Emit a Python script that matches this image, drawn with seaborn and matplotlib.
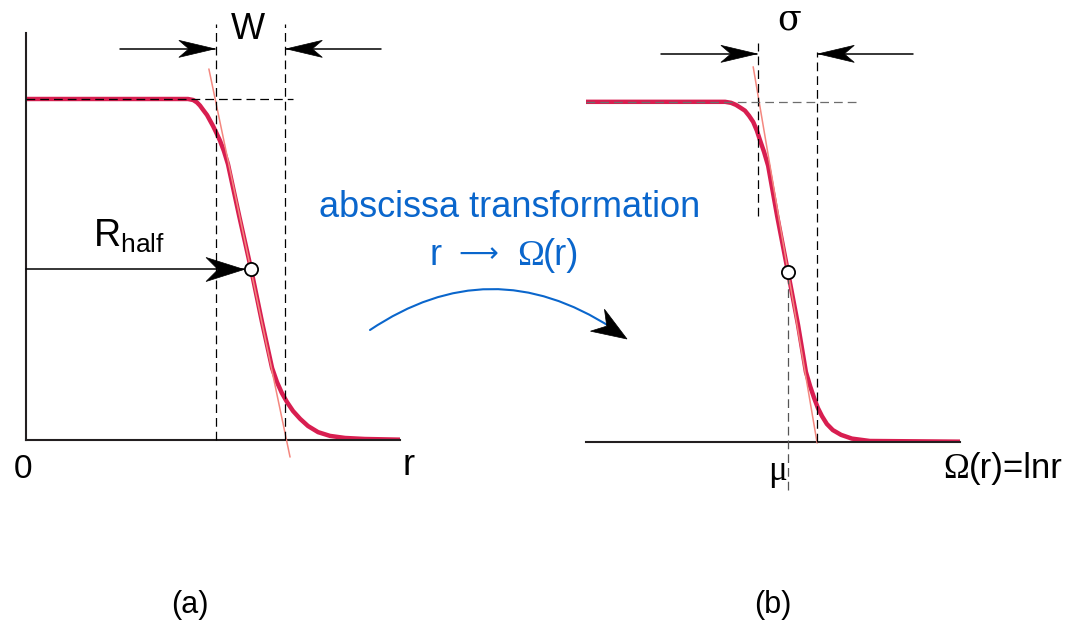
import numpy as np
import seaborn as sns
import matplotlib.pyplot as plt
from matplotlib.patches import Polygon, FancyArrowPatch
from matplotlib.transforms import IdentityTransform

# panel (a): occupation vs r
r_a = [0.0, 4.33, 4.47, 4.57, 4.65, 4.73, 4.84, 4.92, 5.00, 5.08, 5.19, 5.29, 5.40,
       5.70, 6.02, 6.31, 6.58, 6.71, 6.84, 6.98, 7.14, 7.33, 7.54, 7.81, 8.13,
       8.53, 9.06, 10.0]
f_a = [1.0, 1.0, 0.997, 0.990, 0.981, 0.969, 0.953, 0.937, 0.921, 0.903, 0.877, 0.848, 0.809,
       0.657, 0.5, 0.346, 0.211, 0.170, 0.138, 0.111, 0.085, 0.062, 0.041, 0.023, 0.012,
       0.006, 0.003, 0.001]
r_half = 6.02
tan_a_r = [4.89, 7.06]
tan_a_f = [1.088, -0.05]
w_edges = [5.08, 6.93]

# panel (b): same profile vs Omega(r) = ln r
om_b = [0.0, 3.72, 3.88, 4.01, 4.14, 4.25, 4.36, 4.47, 4.57, 4.65, 4.76, 4.87,
        5.11, 5.40, 5.67, 5.88, 5.99, 6.10, 6.20, 6.31, 6.44, 6.60, 6.82, 7.11,
        7.59, 10.0]
f_b = [1.0, 1.0, 0.997, 0.991, 0.982, 0.974, 0.959, 0.941, 0.915, 0.888, 0.853, 0.812,
       0.665, 0.5, 0.344, 0.206, 0.165, 0.129, 0.100, 0.076, 0.053, 0.035, 0.021, 0.010,
       0.003, 0.001]
mu = 5.40
tan_b_om = [4.47, 6.18]
tan_b_f = [1.103, -0.003]
sigma_edges = [4.60, 6.18]

RED = '#d81e50'
PINK = '#f4877f'
BLUE = '#0a66cc'
INK = '#231f20'
DASH = (0, (7, 4))

sns.set_style('white')
plt.rcParams['font.family'] = ['Liberation Sans', 'DejaVu Sans']
plt.rcParams['text.color'] = 'black'
plt.rcParams['mathtext.fontset'] = 'custom'
plt.rcParams['mathtext.rm'] = 'Liberation Sans'

W, H = 1083, 628
fig = plt.figure(figsize=(W / 100, H / 100), dpi=100)
ax_a = fig.add_axes([26 / W, (H - 440) / H, 374 / W, 407 / H])
ax_b = fig.add_axes([586 / W, (H - 442) / H, 374 / W, 406 / H])
for ax in (ax_a, ax_b):
    ax.set_xlim(0, 10)
    ax.set_ylim(0, 1.1935)
    ax.set_xticks([])
    ax.set_yticks([])
    ax.patch.set_alpha(0)
sns.despine(ax=ax_a)
sns.despine(ax=ax_b, left=True)
for ax in (ax_a, ax_b):
    for s in ('left', 'bottom'):
        ax.spines[s].set_color(INK)
        ax.spines[s].set_linewidth(1.5)


def barb(ax, tail, tip, length, half_w, notch):
    # concave black arrowhead, sized in pixels
    t = ax.transData.transform(tip) if ax is not None else np.array(tip, float)
    s = ax.transData.transform(tail) if ax is not None else np.array(tail, float)
    d = (t - s) / np.hypot(*(t - s))
    p = np.array([-d[1], d[0]])
    pts = [t, t - length * d + half_w * p, t - (length - notch) * d, t - length * d - half_w * p]
    fig.add_artist(Polygon(pts, closed=True, transform=IdentityTransform(),
                           facecolor='black', edgecolor='black', lw=0.5, zorder=8))


def hline_arrow(ax, x0, x1, y, length=36, half_w=8.5, notch=10):
    ax.plot([x0, x1], [y, y], color='black', lw=1.1, clip_on=False, zorder=5)
    barb(ax, (x0, y), (x1, y), length, half_w, notch)


# ---- panel (a)
sns.lineplot(x=r_a, y=f_a, ax=ax_a, color=RED, linewidth=3.2, sort=False, zorder=2,
             solid_joinstyle='round', solid_capstyle='round')
ax_a.plot(tan_a_r, tan_a_f, color=PINK, lw=1.1, clip_on=False, zorder=3)
for x in w_edges:
    ax_a.plot([x, x], [0, 1.22], color='black', lw=0.9, ls=DASH, clip_on=False, zorder=4)
ax_a.plot([0, 7.14], [1, 1], color='black', lw=0.9, ls=DASH, clip_on=False, zorder=4)
hline_arrow(ax_a, 2.51, w_edges[0] - 0.03, 1.147)
hline_arrow(ax_a, 9.49, w_edges[1] + 0.03, 1.147)
hline_arrow(ax_a, 0, r_half - 0.19, 0.5, length=38, half_w=12, notch=12)
ax_a.scatter([r_half], [0.5], s=90, facecolor='white', edgecolor='black', lw=1.3, zorder=9, clip_on=False)

ax_a.text(5.92, 1.176, 'W', fontsize=26, ha='center', va='baseline')
ax_a.text(1.79, 0.566, r'R$_{\mathrm{half}}$', fontsize=27, ha='left', va='baseline')
ax_a.text(-0.09, -0.111, '0', fontsize=24, ha='center', va='baseline')
ax_a.text(10.08, -0.103, 'r', fontsize=26, ha='left', va='baseline')

# ---- panel (b)
sns.lineplot(x=om_b, y=f_b, ax=ax_b, color=RED, linewidth=3.2, sort=False, zorder=2,
             solid_joinstyle='round', solid_capstyle='round')
ax_b.plot(tan_b_om, tan_b_f, color=PINK, lw=1.1, clip_on=False, zorder=3)
ax_b.plot([sigma_edges[0]] * 2, [0.665, 1.174], color='black', lw=0.9, ls=DASH, clip_on=False, zorder=4)
ax_b.plot([sigma_edges[1]] * 2, [0, 1.147], color='black', lw=0.9, ls=DASH, clip_on=False, zorder=4)
ax_b.plot([mu, mu], [-0.141, 0.5], color='#555555', lw=0.9, ls=DASH, clip_on=False, zorder=4)
ax_b.plot([0, 7.33], [1, 1], color='#6d6d6d', lw=0.9, ls=DASH, clip_on=False, zorder=4)
hline_arrow(ax_b, 2.0, sigma_edges[0] - 0.03, 1.141)
hline_arrow(ax_b, 8.74, sigma_edges[1] + 0.03, 1.141)
ax_b.scatter([mu], [0.5], s=90, facecolor='white', edgecolor='black', lw=1.3, zorder=9, clip_on=False)

ax_b.text(5.43, 1.212, 'σ', fontsize=25, family='DejaVu Serif', ha='center', va='baseline')
ax_b.text(5.11, -0.112, 'μ', fontsize=25, family='Liberation Serif', ha='center', va='baseline')
ax_b.text(10.25, -0.106, 'Ω', fontsize=25, family='Liberation Serif', ha='right', va='baseline')
ax_b.text(10.25, -0.106, '(r)=lnr', fontsize=25, ha='left', va='baseline')

# ---- transformation note between panels
fig.text(510 / W, 1 - 217 / H, 'abscissa transformation', color=BLUE, fontsize=26,
         ha='center', va='baseline')
fig.text(430 / W, 1 - 265 / H, 'r', color=BLUE, fontsize=26, ha='left', va='baseline')
fig.text(478 / W, 1 - 262 / H, '⟶', color=BLUE, fontsize=20, family='DejaVu Sans',
         ha='center', va='baseline')
fig.text(517 / W, 1 - 265 / H, 'Ω', color=BLUE, fontsize=26, family='Liberation Serif',
         ha='left', va='baseline')
fig.text(543 / W, 1 - 265 / H, '(r)', color=BLUE, fontsize=26, ha='left', va='baseline')

arc = FancyArrowPatch((370, H - 330), (612, H - 328), connectionstyle='arc3,rad=-0.33',
                      arrowstyle='-', color=BLUE, lw=1.5, shrinkA=0, shrinkB=0,
                      transform=IdentityTransform(), zorder=5)
fig.add_artist(arc)
barb(None, (605, H - 325), (627, H - 339), 35, 13, 11)

fig.text(190 / W, 1 - 613 / H, '(a)', fontsize=22, ha='center', va='baseline')
fig.text(773 / W, 1 - 613 / H, '(b)', fontsize=22, ha='center', va='baseline')

fig.savefig('out.png', dpi=100, facecolor='white')
